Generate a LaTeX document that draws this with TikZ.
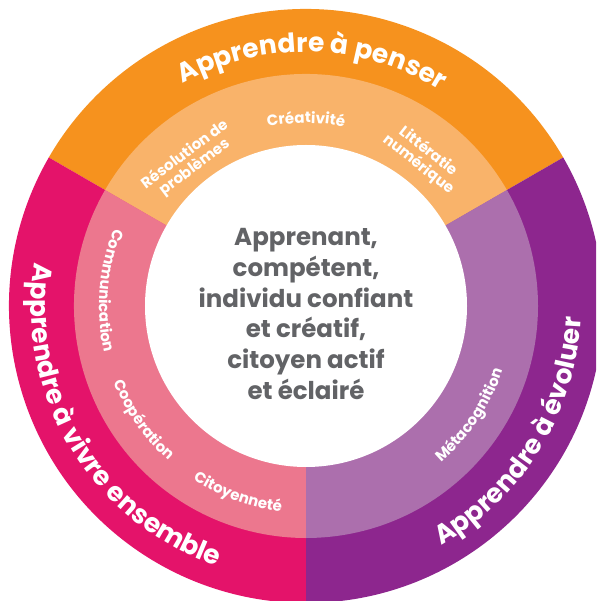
\documentclass[tikz,border=0pt]{standalone}
\usepackage{fontspec}
\setmainfont{Poppins}
\usetikzlibrary{decorations.text}
\definecolor{orD}{HTML}{F6921E}
\definecolor{orL}{HTML}{F9B36A}
\definecolor{maD}{HTML}{E4136A}
\definecolor{maL}{HTML}{EC778E}
\definecolor{puD}{HTML}{8D268E}
\definecolor{puL}{HTML}{AC6FAD}
\definecolor{txtgray}{HTML}{626366}
\newcommand{\bigF}{\bfseries\fontsize{26.5}{26.5}\selectfont}
\newcommand{\smF}{\bfseries\fontsize{15}{15}\selectfont}
\tikzset{
  curvetext/.style={decorate, decoration={text along path, text align=center, text color=white, text={#1}}},
  innerlbl/.style={text=white, align=center, inner sep=0pt, font=\bfseries\fontsize{15}{16}\selectfont},
}
\begin{document}
\begin{tikzpicture}[x=1pt,y=1pt]
\useasboundingbox (-306,-295) rectangle (290,306);
\clip (-306,-295) rectangle (290,306);
% outer ring sectors
\fill[orD] (0,0) -- (30:297) arc[start angle=30,end angle=150,radius=297] -- cycle;
\fill[maD] (0,0) -- (150:297) arc[start angle=150,end angle=270,radius=297] -- cycle;
\fill[puD] (0,0) -- (270:297) arc[start angle=270,end angle=390,radius=297] -- cycle;
% inner ring sectors
\fill[orL] (0,0) -- (30:232) arc[start angle=30,end angle=150,radius=232] -- cycle;
\fill[maL] (0,0) -- (150:232) arc[start angle=150,end angle=270,radius=232] -- cycle;
\fill[puL] (0,0) -- (270:232) arc[start angle=270,end angle=390,radius=232] -- cycle;
% white centre
\fill[white] (0,0) circle[radius=161];
% outer labels
\path[curvetext={|\bigF|Apprendre à penser}] (148.5:254) arc[start angle=148.5,end angle=28.5,radius=254];
\path[curvetext={|\bigF|Apprendre à vivre ensemble}] (151:275) arc[start angle=151,end angle=271,radius=275];
\path[curvetext={|\bigF|Apprendre à évoluer}] (-91.5:275) arc[start angle=-91.5,end angle=28.5,radius=275];
% inner ring labels
\path[curvetext={|\smF|Créativité}] (150:183) arc[start angle=150,end angle=30,radius=183];
\path[curvetext={|\smF|Communication}] (115.5:207) arc[start angle=115.5,end angle=235.5,radius=207];
\path[curvetext={|\smF|Coopération}] (155:207) arc[start angle=155,end angle=275,radius=207];
\path[curvetext={|\smF|Citoyenneté}] (190:207) arc[start angle=190,end angle=310,radius=207];
\path[curvetext={|\smF|Métacognition}] (-93.6:207) arc[start angle=-93.6,end angle=26.4,radius=207];
\node[innerlbl, rotate=37] (reso) at (128.7:186) {Résolution de\\problèmes};
\node[innerlbl, rotate=-38] (litt) at (51.6:189) {Littératie\\numérique};
% centre text
\node[align=center, text=txtgray, inner sep=0pt, font=\bfseries\fontsize{24.5}{30.8}\selectfont] (centre) at (0,-8) {Apprenant,\\compétent,\\individu confiant\\et créatif,\\citoyen actif\\et éclairé};
\end{tikzpicture}
\end{document}
